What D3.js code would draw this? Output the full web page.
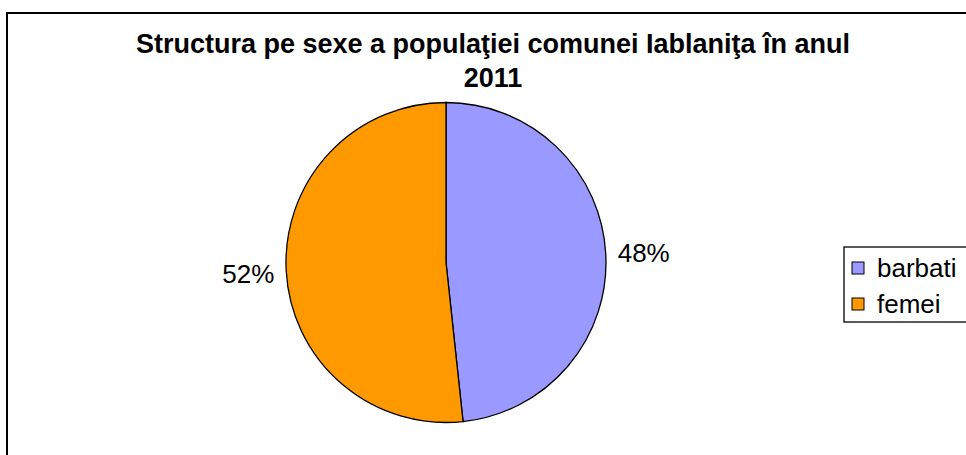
<!DOCTYPE html>
<html>
<head>
<meta charset="utf-8">
<script src="https://cdn.jsdelivr.net/npm/d3@7"></script>
<style>
  body { margin: 0; background: #fff; }
  text { font-family: "Liberation Sans", Arial, sans-serif; }
</style>
</head>
<body>
<div id="chart"></div>
<script>
// data
var categories = ["barbati", "femei"];
var values = [48.3, 51.7];
var colors = ["#9999FF", "#FF9900"];
var titleLines = ["Structura pe sexe a populaţiei comunei Iablaniţa în anul", "2011"];

var w = 966,
    h = 455;

var svg = d3.select("#chart")
	.append("svg")
	.attr("width", w)
	.attr("height", h);

// chart frame
svg.append("rect")
	.attr("x", 7)
	.attr("y", 13)
	.attr("width", 980)
	.attr("height", 470)
	.style("fill", "#fff")
	.style("stroke", "#000")
	.style("stroke-width", 2);

// title
svg.append("text")
	.attr("x", 493)
	.attr("y", 53)
	.attr("text-anchor", "middle")
	.style("font-weight", "bold")
	.style("font-size", "27px")
	.text(titleLines[0]);

svg.append("text")
	.attr("x", 493)
	.attr("y", 87)
	.attr("text-anchor", "middle")
	.style("font-weight", "bold")
	.style("font-size", "27px")
	.text(titleLines[1]);

// pie
var cx = 446, cy = 262.5, r = 160;

var pie = d3.pie().sort(null)(values);
var arc = d3.arc().innerRadius(0).outerRadius(r);
var labelArc = d3.arc().innerRadius(198).outerRadius(198);
var total = d3.sum(values);

var g = svg.append("g")
	.attr("transform", "translate(" + cx + "," + cy + ")");

g.selectAll("path")
	.data(pie)
	.enter()
	.append("path")
	.attr("d", arc)
	.style("fill", function(d, i) { return colors[i]; })
	.style("stroke", "#000")
	.style("stroke-width", 1.3);

g.selectAll("text.lbl")
	.data(pie)
	.enter()
	.append("text")
	.attr("class", "lbl")
	.attr("x", function(d) { return labelArc.centroid(d)[0]; })
	.attr("y", function(d) { return labelArc.centroid(d)[1]; })
	.attr("dy", "0.4em")
	.attr("text-anchor", "middle")
	.style("font-size", "26px")
	.text(function(d) { return Math.round(d.data / total * 100) + "%"; });

// legend
var legend = svg.append("g");

legend.append("rect")
	.attr("x", 844)
	.attr("y", 247)
	.attr("width", 140)
	.attr("height", 75)
	.style("fill", "#fff")
	.style("stroke", "#000")
	.style("stroke-width", 1.3);

var item = legend.selectAll("g.item")
	.data(categories)
	.enter()
	.append("g")
	.attr("class", "item")
	.attr("transform", function(d, i) { return "translate(852," + (262 + i * 36) + ")"; });

item.append("rect")
	.attr("width", 12)
	.attr("height", 12)
	.style("fill", function(d, i) { return colors[i]; })
	.style("stroke", "#000")
	.style("stroke-width", 1);

item.append("text")
	.attr("x", 25)
	.attr("y", 15)
	.style("font-size", "26px")
	.text(function(d) { return d; });
</script>
</body>
</html>
